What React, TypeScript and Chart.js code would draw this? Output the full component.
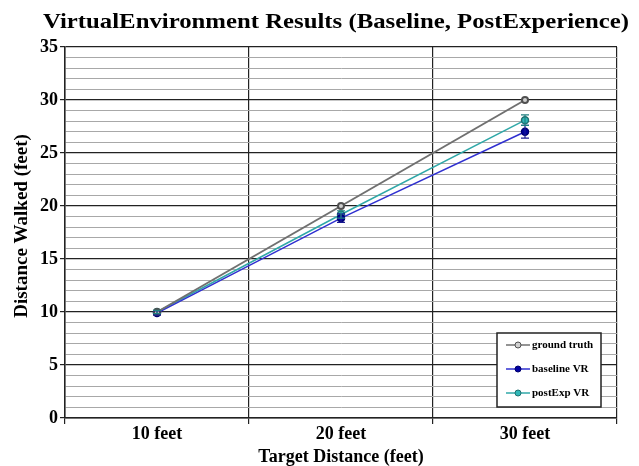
import React, { useEffect, useRef } from "react";
import { Chart, registerables } from "chart.js";

Chart.register(...registerables);

const categories = ["10 feet", "20 feet", "30 feet"];
const groundTruth = [10, 20, 30];
const baselineVR = [9.9, 18.85, 27.0];
const baselineErr = [0.2, 0.4, 0.6];
const postExpVR = [10.0, 19.2, 28.1];
const postExpErr = [0.15, 0.35, 0.5];
const titleText = "VirtualEnvironment Results (Baseline, PostExperience)";
const xTitle = "Target Distance (feet)";
const yTitle = "Distance Walked (feet)";

const FONT = "'Liberation Serif', 'Times New Roman', serif";

const errorBarPlugin = {
  id: "errorBars",
  afterDatasetsDraw(chart: any) {
    const ctx = chart.ctx;
    const yScale = chart.scales.y;
    chart.data.datasets.forEach((ds: any, i: number) => {
      if (!ds.errors) return;
      const meta = chart.getDatasetMeta(i);
      ctx.save();
      ctx.strokeStyle = ds.errorColor || ds.borderColor;
      ctx.lineWidth = 1.2;
      meta.data.forEach((pt: any, j: number) => {
        const v = ds.data[j];
        const e = ds.errors[j];
        const x = pt.x;
        const yTop = yScale.getPixelForValue(v + e);
        const yBot = yScale.getPixelForValue(v - e);
        ctx.beginPath();
        ctx.moveTo(x, yTop);
        ctx.lineTo(x, yBot);
        ctx.moveTo(x - 4, yTop);
        ctx.lineTo(x + 4, yTop);
        ctx.moveTo(x - 4, yBot);
        ctx.lineTo(x + 4, yBot);
        ctx.stroke();
      });
      ctx.restore();
    });
  },
};

const decorPlugin = {
  id: "decor",
  afterDraw(chart: any) {
    const ctx = chart.ctx;
    ctx.save();
    // title (stretched horizontally like the reference)
    ctx.fillStyle = "#000";
    ctx.font = `bold 22px ${FONT}`;
    ctx.textAlign = "center";
    ctx.textBaseline = "middle";
    const w = ctx.measureText(titleText).width;
    const sx = 586 / w;
    ctx.save();
    ctx.translate(336, 22);
    ctx.scale(sx, 1);
    ctx.fillText(titleText, 0, 0);
    ctx.restore();

    // y axis title
    ctx.save();
    ctx.font = `bold 19px ${FONT}`;
    ctx.translate(22, 226);
    ctx.rotate(-Math.PI / 2);
    ctx.fillText(yTitle, 0, 0);
    ctx.restore();

    // legend box
    const bx = 497, by = 333, bw = 104, bh = 74;
    ctx.fillStyle = "#fff";
    ctx.fillRect(bx, by, bw, bh);
    ctx.strokeStyle = "#222";
    ctx.lineWidth = 1.5;
    ctx.strokeRect(bx, by, bw, bh);
    ctx.font = `bold 11px ${FONT}`;
    ctx.textAlign = "left";
    chart.data.datasets.forEach((ds: any, i: number) => {
      const y = by + 12 + i * 24;
      ctx.strokeStyle = ds.borderColor;
      ctx.lineWidth = 1.5;
      ctx.beginPath();
      ctx.moveTo(bx + 9, y);
      ctx.lineTo(bx + 33, y);
      ctx.stroke();
      ctx.beginPath();
      ctx.arc(bx + 21, y, 3, 0, Math.PI * 2);
      ctx.fillStyle = ds.pointBackgroundColor;
      ctx.fill();
      ctx.strokeStyle = ds.pointBorderColor;
      ctx.lineWidth = 1;
      ctx.stroke();
      ctx.fillStyle = "#000";
      ctx.fillText(ds.label, bx + 35, y);
    });
    ctx.restore();
  },
};

export default function App() {
  const ref = useRef<HTMLCanvasElement>(null);
  useEffect(() => {
    document.body.style.margin = "0";
    const chart = new Chart(ref.current!, {
      type: "line",
      data: {
        labels: categories,
        datasets: [
          {
            label: "ground truth",
            data: groundTruth,
            borderColor: "#707070",
            backgroundColor: "#707070",
            pointBackgroundColor: "#d0d0d0",
            pointBorderColor: "#505050",
            pointRadius: 3,
            borderWidth: 2,
          },
          {
            label: "baseline VR",
            data: baselineVR,
            errors: baselineErr,
            errorColor: "#1a1a90",
            borderColor: "#3030d0",
            backgroundColor: "#3030d0",
            pointBackgroundColor: "#0000a0",
            pointBorderColor: "#000070",
            pointRadius: 3.5,
            borderWidth: 1.5,
          },
          {
            label: "postExp VR",
            data: postExpVR,
            errors: postExpErr,
            errorColor: "#208080",
            borderColor: "#30a8a8",
            backgroundColor: "#30a8a8",
            pointBackgroundColor: "#30b8b8",
            pointBorderColor: "#207070",
            pointRadius: 3.5,
            borderWidth: 1.5,
          },
        ] as any,
      },
      options: {
        animation: false,
        responsive: false,
        layout: { padding: { top: 47, right: 22, left: 0, bottom: 0 } },
        plugins: {
          legend: { display: false },
          title: { display: false },
          tooltip: { enabled: false },
        },
        scales: {
          x: {
            offset: true,
            grid: {
              offset: true,
              color: "#222",
              lineWidth: 1.2,
              tickLength: 6,
              drawTicks: true,
            },
            border: { color: "#222", width: 1.5 },
            ticks: {
              color: "#000",
              font: { family: FONT, size: 18, weight: "bold" },
              padding: 0,
            },
            title: {
              display: true,
              text: xTitle,
              color: "#000",
              font: { family: FONT, size: 18, weight: "bold", lineHeight: 1 },
              padding: { top: 0, bottom: 0 },
            },
            afterFit(scale: any) {
              scale.height = 48;
            },
          },
          y: {
            min: 0,
            max: 35,
            grid: {
              color: (c: any) => (c.tick && c.tick.value % 5 === 0 ? "#222" : "#a8a8a8"),
              lineWidth: (c: any) => (c.tick && c.tick.value % 5 === 0 ? 1.2 : 1),
              tickColor: (c: any) => (c.tick && c.tick.value % 5 === 0 ? "#222" : "rgba(0,0,0,0)"),
              tickLength: 5,
            },
            border: { color: "#222", width: 1.5 },
            ticks: {
              stepSize: 1,
              autoSkip: false,
              color: "#000",
              font: { family: FONT, size: 18, weight: "bold" },
              padding: 2,
              callback: (v: any) => (Number(v) % 5 === 0 ? String(v) : ""),
            },
            afterFit(scale: any) {
              scale.width = 65;
            },
          },
        },
      },
      plugins: [errorBarPlugin, decorPlugin],
    });
    return () => chart.destroy();
  }, []);
  return (
    <div style={{ width: 639, height: 466 }}>
      <canvas ref={ref} width={639} height={466} style={{ display: "block" }} />
    </div>
  );
}
